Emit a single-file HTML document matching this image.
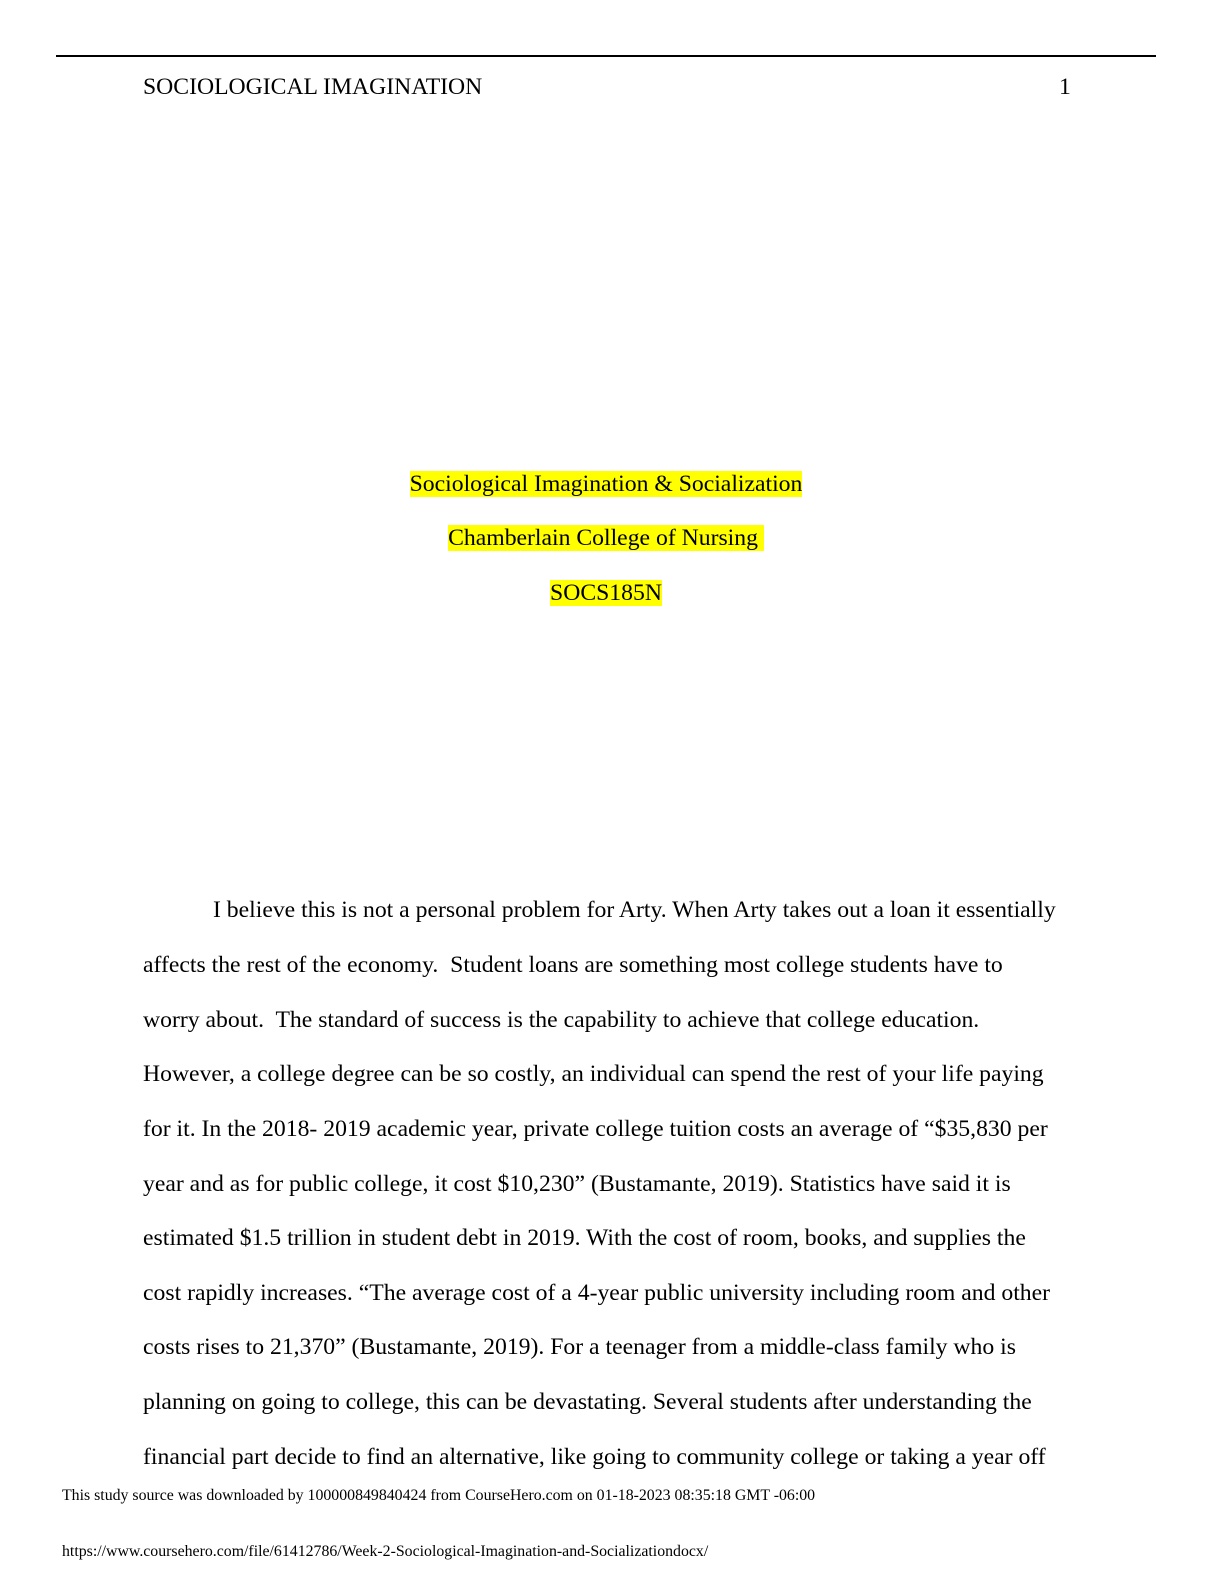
<!DOCTYPE html>
<html><head><meta charset="utf-8"><style>
body{margin:0;width:1224px;height:1584px;background:#fff;position:relative;font-family:"Liberation Serif",serif;color:#000;overflow:hidden}
.l{position:absolute;font-size:23.7px;line-height:30px;white-space:nowrap}
.c{left:0;width:1212px;text-align:center}
.h{background:#ffff00}
.f{position:absolute;font-size:15.85px;line-height:20px;left:62px;white-space:nowrap}
</style></head><body>
<div style="position:absolute;left:56px;top:55px;width:1100px;height:2px;background:#000"></div>
<div class="l" style="left:143px;top:72px">SOCIOLOGICAL IMAGINATION</div>
<div class="l" style="left:1059px;top:72px">1</div>
<div class="l c" style="top:469px"><span class="h">Sociological Imagination &amp; Socialization</span></div>
<div class="l c" style="top:523px"><span class="h">Chamberlain College of Nursing&nbsp;</span></div>
<div class="l c" style="top:578px"><span class="h">SOCS185N</span></div>
<div class="l" style="left:213px;top:895px">I believe this is not a personal problem for Arty. When Arty takes out a loan it essentially</div>
<div class="l" style="left:143px;top:950px">affects the rest of the economy.&nbsp; Student loans are something most college students have to</div>
<div class="l" style="left:143px;top:1005px">worry about.&nbsp; The standard of success is the capability to achieve that college education.</div>
<div class="l" style="left:143px;top:1059px">However, a college degree can be so costly, an individual can spend the rest of your life paying</div>
<div class="l" style="left:143px;top:1114px">for it. In the 2018- 2019 academic year, private college tuition costs an average of “$35,830 per</div>
<div class="l" style="left:143px;top:1169px">year and as for public college, it cost $10,230” (Bustamante, 2019). Statistics have said it is</div>
<div class="l" style="left:143px;top:1223px">estimated $1.5 trillion in student debt in 2019. With the cost of room, books, and supplies the</div>
<div class="l" style="left:143px;top:1278px">cost rapidly increases. “The average cost of a 4-year public university including room and other</div>
<div class="l" style="left:143px;top:1332px">costs rises to 21,370” (Bustamante, 2019). For a teenager from a middle-class family who is</div>
<div class="l" style="left:143px;top:1387px">planning on going to college, this can be devastating. Several students after understanding the</div>
<div class="l" style="left:143px;top:1442px">financial part decide to find an alternative, like going to community college or taking a year off</div>
<div class="f" style="top:1486px">This study source was downloaded by 100000849840424 from CourseHero.com on 01-18-2023 08:35:18 GMT -06:00</div>
<div class="f" style="top:1542px">https://www.coursehero.com/file/61412786/Week-2-Sociological-Imagination-and-Socializationdocx/</div>
</body></html>
